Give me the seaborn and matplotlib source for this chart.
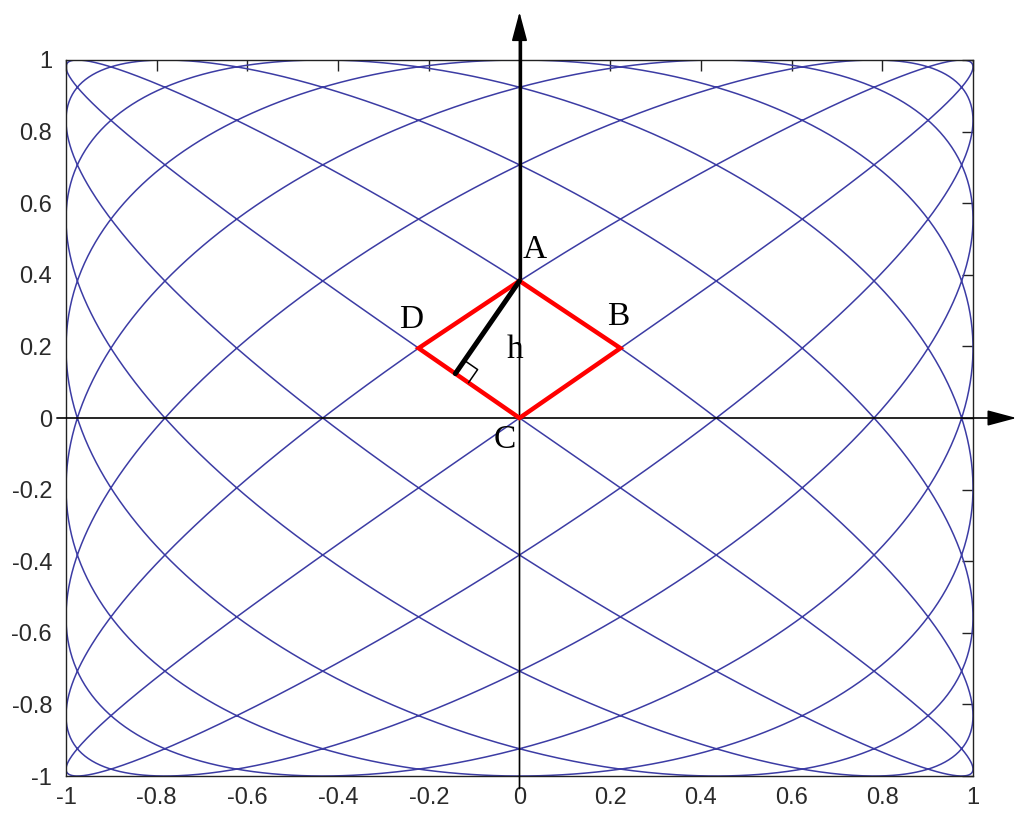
import numpy as np
import pandas as pd
import matplotlib
matplotlib.use("Agg")
import matplotlib.pyplot as plt
import seaborn as sns

# ---- data -------------------------------------------------------------
# Lissajous scan: x = sin(fx*t + phase), y = sin(fy*t)
freq_x = 8
freq_y = 7
phase = 0.0
n_samples = 6000

tick_values = [-1, -0.8, -0.6, -0.4, -0.2, 0, 0.2, 0.4, 0.6, 0.8, 1]
tick_labels = ["-1", "-0.8", "-0.6", "-0.4", "-0.2", "0", "0.2", "0.4", "0.6", "0.8", "1"]

# rhombus A-B-C-D on the scan-line crossings
rhombus_names = ["A", "B", "C", "D"]
rhombus_x = [0.0, 0.2225, 0.0, -0.2225]
rhombus_y = [0.383, 0.195, 0.0, 0.195]

# ---- build curve --------------------------------------------------------
t = np.linspace(0, 2 * np.pi, n_samples)
df = pd.DataFrame({"t": t,
                   "x": np.sin(freq_x * t + phase),
                   "y": np.sin(freq_y * t)})

sns.set_style("white")
plt.rcParams["font.family"] = ["Liberation Sans", "DejaVu Sans"]

fig = plt.figure(figsize=(10.24, 8.30), dpi=100)
ax = fig.add_axes([66 / 1024, 54 / 830, 907 / 1024, 716 / 830])

sns.lineplot(data=df, x="x", y="y", sort=False, estimator=None,
             color="#3c3ca4", linewidth=1.1, ax=ax)

ax.set_xlim(-1, 1)
ax.set_ylim(-1, 1)
ax.set_xlabel("")
ax.set_ylabel("")
ax.set_xticks(tick_values)
ax.set_xticklabels(tick_labels)
ax.set_yticks(tick_values)
ax.set_yticklabels(tick_labels)
ax.tick_params(direction="in", length=8, width=1, top=True, right=True,
               labelsize=17, labelcolor="#2a2a2a", color="#222222")
ax.tick_params(axis="x", pad=8)
ax.tick_params(axis="y", pad=10)
for s in ax.spines.values():
    s.set_color("#222222")
    s.set_linewidth(1.0)

# ---- coordinate axes with arrows ----------------------------------------
arrow_style = "-|>,head_length=0.6,head_width=0.16"
ax.annotate("", xy=(1.096, 0.0), xytext=(-1.02, 0.0),
            arrowprops=dict(arrowstyle=arrow_style, color="black", lw=1.2,
                            mutation_scale=30, shrinkA=0, shrinkB=0),
            annotation_clip=False, zorder=5)
ax.annotate("", xy=(0.0, 1.134), xytext=(0.0, -1.035),
            arrowprops=dict(arrowstyle=arrow_style, color="black", lw=1.2,
                            mutation_scale=30, shrinkA=0, shrinkB=0),
            annotation_clip=False, zorder=5)
ax.plot([0, 0], [rhombus_y[0], 1.09], color="black", lw=2.4,
        clip_on=False, zorder=5, solid_capstyle="butt")

# ---- rhombus ------------------------------------------------------------
rx = rhombus_x + [rhombus_x[0]]
ry = rhombus_y + [rhombus_y[0]]
ax.plot(rx, ry, color="#ff0000", lw=3.2, zorder=6, solid_joinstyle="miter")

# altitude h from A onto side DC (perpendicular in screen space)
fig.canvas.draw()
T = ax.transData
pA = T.transform((rhombus_x[0], rhombus_y[0]))
pC = T.transform((rhombus_x[2], rhombus_y[2]))
pD = T.transform((rhombus_x[3], rhombus_y[3]))
u = (pC - pD) / np.linalg.norm(pC - pD)
foot = pD + np.dot(pA - pD, u) * u
v = (pA - foot) / np.linalg.norm(pA - foot)
inv = T.inverted()
fA = inv.transform(pA)
fF = inv.transform(foot)
ax.plot([fA[0], fF[0]], [fA[1], fF[1]], color="black", lw=3.6, zorder=7,
        solid_capstyle="round")
s = 16
sq = [foot + s * u, foot + s * u + s * v, foot + s * v]
sq = inv.transform(np.array(sq))
ax.plot(sq[:, 0], sq[:, 1], color="black", lw=1.1, zorder=7)

label_pos = {"A": (0.033, 0.47), "B": (0.218, 0.283), "C": (-0.033, -0.062),
             "D": (-0.238, 0.274)}
for name in rhombus_names:
    lx, ly = label_pos[name]
    ax.text(lx, ly, name, fontsize=24, family=["Liberation Serif", "DejaVu Serif"],
            ha="center", va="center", color="black", zorder=8)
ax.text(-0.011, 0.19, "h", fontsize=24, family=["Liberation Serif", "DejaVu Serif"],
        ha="center", va="center", color="black", zorder=8)

fig.savefig("out.png", dpi=100, facecolor="white")
